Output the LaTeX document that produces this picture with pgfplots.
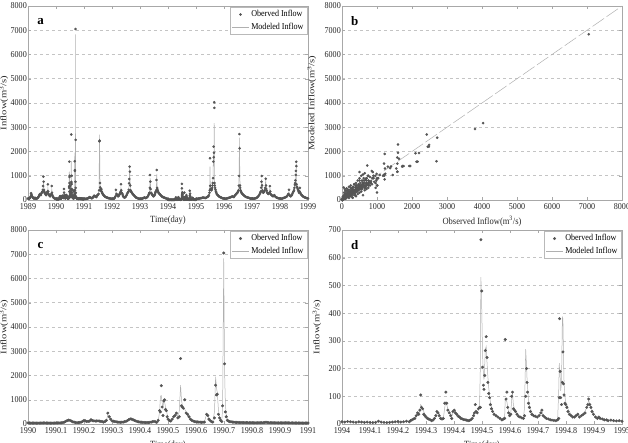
\documentclass[border=0pt]{standalone}
\usepackage{pgfplots}
\pgfplotsset{compat=1.18}
\usepackage{pgfplotstable}
\usepackage{fontspec}
\setmainfont{Liberation Serif}
\newfontfamily\hfont[FakeStretch=0.9]{Liberation Serif}
\newfontfamily\vfont[FakeStretch=1.25]{Liberation Serif}
\definecolor{obsc}{HTML}{555555}
\definecolor{modc}{HTML}{B0B0B0}
\definecolor{gridc}{HTML}{C4C4C4}
\definecolor{framec}{HTML}{A8A8A8}

\pgfplotstableread[row sep=\\]{t obs mod\\
1989.00 60 70\\ 1989.015 55 65\\ 1989.03 50 60\\ 1989.045 60 62\\ 1989.06 70 70\\ 1989.075 100 90\\ 1989.09 150 130\\ 1989.11 280 250\\ 1989.12 240 230\\ 1989.13 200 210\\ 1989.145 150 170\\ 1989.16 120 140\\ 1989.175 100 110\\ 1989.19 80 90\\ 1989.205 70 80\\ 1989.22 60 70\\ 1989.235 80 75\\ 1989.25 90 90\\ 1989.265 70 80\\ 1989.28 60 70\\ 1989.30 55 65\\ 1989.32 60 65\\ 1989.34 80 80\\ 1989.355 100 95\\ 1989.37 120 110\\ 1989.385 150 150\\ 1989.40 180 200\\ 1989.415 220 210\\ 1989.43 250 240\\ 1989.445 230 230\\ 1989.46 200 220\\ 1989.475 260 250\\ 1989.49 300 280\\ 1989.505 330 340\\ 1989.52 350 400\\ 1989.53 420 420\\ 1989.54 577 500\\ 1989.55 960 700\\ 1989.56 755 650\\ 1989.57 412 500\\ 1989.58 350 400\\ 1989.59 300 350\\ 1989.605 280 300\\ 1989.62 250 280\\ 1989.635 220 250\\ 1989.65 200 220\\ 1989.665 250 250\\ 1989.68 300 280\\ 1989.695 350 330\\ 1989.71 646 500\\ 1989.72 350 400\\ 1989.73 250 300\\ 1989.745 220 260\\ 1989.76 200 230\\ 1989.775 170 200\\ 1989.79 150 180\\ 1989.81 200 200\\ 1989.83 250 240\\ 1989.85 577 450\\ 1989.86 300 350\\ 1989.87 200 250\\ 1989.885 150 190\\ 1989.90 120 150\\ 1989.915 100 120\\ 1989.93 80 100\\ 1989.945 70 90\\ 1989.96 60 80\\ 1989.98 55 60\\
}\tabA
\pgfplotstableread[row sep=\\]{t obs mod\\
1990.00 45 50\\ 1990.005 44 48\\ 1990.01 40 45\\ 1990.015 41 44\\ 1990.02 40 42\\ 1990.025 39 41\\ 1990.03 38 40\\ 1990.035 39 41\\ 1990.04 40 42\\ 1990.045 41 43\\ 1990.05 42 44\\ 1990.055 44 45\\ 1990.06 45 46\\ 1990.065 42 45\\ 1990.07 40 44\\ 1990.075 39 42\\ 1990.08 38 40\\ 1990.085 39 40\\ 1990.09 40 40\\ 1990.095 41 42\\ 1990.10 42 44\\ 1990.105 44 45\\ 1990.11 45 46\\ 1990.115 48 49\\ 1990.12 50 52\\ 1990.125 60 60\\ 1990.13 80 70\\ 1990.135 110 100\\ 1990.14 140 130\\ 1990.145 160 150\\ 1990.15 150 145\\ 1990.155 120 125\\ 1990.16 90 100\\ 1990.165 75 85\\ 1990.17 60 70\\ 1990.175 58 65\\ 1990.18 55 60\\ 1990.185 65 68\\ 1990.19 80 75\\ 1990.195 110 105\\ 1990.20 150 140\\ 1990.205 130 135\\ 1990.21 100 110\\ 1990.215 110 112\\ 1990.22 120 115\\ 1990.225 180 160\\ 1990.23 140 145\\ 1990.235 130 135\\ 1990.24 120 125\\ 1990.245 125 128\\ 1990.25 130 130\\ 1990.255 120 122\\ 1990.26 110 115\\ 1990.265 95 100\\ 1990.27 80 90\\ 1990.275 100 100\\ 1990.28 150 140\\ 1990.285 450 380\\ 1990.29 300 310\\ 1990.295 200 220\\ 1990.30 130 150\\ 1990.305 115 130\\ 1990.31 100 110\\ 1990.315 90 95\\ 1990.32 80 85\\ 1990.325 75 80\\ 1990.33 70 75\\ 1990.335 75 78\\ 1990.34 80 80\\ 1990.345 95 90\\ 1990.35 110 100\\ 1990.355 140 135\\ 1990.36 180 170\\ 1990.365 210 200\\ 1990.37 200 195\\ 1990.375 175 180\\ 1990.38 150 160\\ 1990.385 125 135\\ 1990.39 100 110\\ 1990.395 90 95\\ 1990.40 80 85\\ 1990.405 75 80\\ 1990.41 70 75\\ 1990.415 65 70\\ 1990.42 60 65\\ 1990.425 60 63\\ 1990.43 60 62\\ 1990.435 70 68\\ 1990.44 80 75\\ 1990.445 95 90\\ 1990.45 110 100\\ 1990.455 90 90\\ 1990.46 70 80\\ 1990.465 150 130\\ 1990.47 550 500\\ 1990.473 500 1150\\ 1990.476 1580 1170\\ 1990.479 700 900\\ 1990.482 350 650\\ 1990.485 950 1000\\ 1990.488 1000 900\\ 1990.491 600 700\\ 1990.494 550 600\\ 1990.497 300 400\\ 1990.50 200 250\\ 1990.505 150 180\\ 1990.51 120 150\\ 1990.515 200 180\\ 1990.52 300 260\\ 1990.525 350 380\\ 1990.53 450 420\\ 1990.535 250 350\\ 1990.54 300 500\\ 1990.545 2700 1600\\ 1990.548 750 1000\\ 1990.551 700 800\\ 1990.555 650 700\\ 1990.56 1000 600\\ 1990.565 450 500\\ 1990.57 400 420\\ 1990.575 300 320\\ 1990.58 200 220\\ 1990.585 150 170\\ 1990.59 120 140\\ 1990.595 100 115\\ 1990.60 90 100\\ 1990.605 85 92\\ 1990.61 80 85\\ 1990.615 75 80\\ 1990.62 70 75\\ 1990.625 75 78\\ 1990.63 80 80\\ 1990.638 400 420\\ 1990.642 350 380\\ 1990.646 200 250\\ 1990.65 150 170\\ 1990.655 100 120\\ 1990.66 80 90\\ 1990.666 250 500\\ 1990.67 1600 1950\\ 1990.673 1200 1500\\ 1990.676 1230 1300\\ 1990.68 400 600\\ 1990.684 250 300\\ 1990.688 150 200\\ 1990.692 100 130\\ 1990.695 750 600\\ 1990.699 7050 6830\\ 1990.702 2480 2200\\ 1990.705 500 800\\ 1990.708 300 400\\ 1990.712 150 200\\ 1990.716 120 150\\ 1990.72 100 120\\ 1990.725 90 100\\ 1990.73 80 90\\ 1990.735 75 85\\ 1990.74 70 80\\ 1990.745 68 75\\ 1990.75 65 70\\ 1990.755 62 68\\ 1990.76 60 65\\ 1990.765 59 64\\ 1990.77 58 62\\ 1990.775 56 61\\ 1990.78 55 60\\ 1990.785 54 59\\ 1990.79 52 58\\ 1990.795 51 56\\ 1990.80 50 55\\ 1990.805 50 54\\ 1990.81 50 53\\ 1990.815 50 52\\ 1990.82 50 52\\ 1990.825 51 52\\ 1990.83 52 53\\ 1990.835 54 54\\ 1990.84 55 55\\ 1990.845 62 60\\ 1990.85 70 65\\ 1990.855 62 62\\ 1990.86 55 58\\ 1990.865 53 56\\ 1990.87 52 55\\ 1990.875 51 53\\ 1990.88 50 52\\ 1990.885 49 51\\ 1990.89 48 50\\ 1990.895 46 49\\ 1990.90 45 48\\ 1990.905 46 48\\ 1990.91 48 49\\ 1990.915 49 50\\ 1990.92 50 50\\ 1990.925 49 49\\ 1990.93 48 48\\ 1990.935 46 48\\ 1990.94 45 47\\ 1990.945 45 46\\ 1990.95 44 46\\ 1990.955 43 45\\ 1990.96 42 45\\ 1990.965 42 44\\ 1990.97 41 43\\ 1990.975 41 43\\ 1990.98 40 42\\ 1990.985 40 42\\ 1990.99 40 42\\ 1990.995 40 42\\ 1991.00 40 42\\
}\tabB
\pgfplotstableread[row sep=\\]{t obs mod\\
1991.00 50 60\\ 1991.02 48 56\\ 1991.04 45 55\\ 1991.06 48 55\\ 1991.08 50 55\\ 1991.10 55 60\\ 1991.12 60 65\\ 1991.14 70 72\\ 1991.16 80 80\\ 1991.18 100 95\\ 1991.20 120 110\\ 1991.22 100 105\\ 1991.24 90 100\\ 1991.26 80 90\\ 1991.28 70 80\\ 1991.30 85 90\\ 1991.32 100 100\\ 1991.34 140 130\\ 1991.36 180 160\\ 1991.38 160 165\\ 1991.40 150 160\\ 1991.42 130 140\\ 1991.44 120 130\\ 1991.46 160 150\\ 1991.48 200 180\\ 1991.50 220 230\\ 1991.52 250 260\\ 1991.54 400 500\\ 1991.55 2420 2700\\ 1991.56 2450 2200\\ 1991.57 700 900\\ 1991.58 520 600\\ 1991.59 450 500\\ 1991.60 380 420\\ 1991.61 420 410\\ 1991.62 450 400\\ 1991.63 350 360\\ 1991.64 300 320\\ 1991.655 280 290\\ 1991.67 250 260\\ 1991.685 220 230\\ 1991.70 200 210\\ 1991.72 170 190\\ 1991.74 150 170\\ 1991.76 130 150\\ 1991.78 120 130\\ 1991.80 110 120\\ 1991.82 100 110\\ 1991.84 90 100\\ 1991.86 80 90\\ 1991.88 75 85\\ 1991.90 70 80\\ 1991.925 65 75\\ 1991.95 60 70\\ 1991.975 55 65\\
1992.00 50 60\\ 1992.02 50 58\\ 1992.04 50 55\\ 1992.06 55 58\\ 1992.08 60 60\\ 1992.10 100 90\\ 1992.12 150 130\\ 1992.14 420 350\\ 1992.16 250 280\\ 1992.175 220 250\\ 1992.19 200 220\\ 1992.205 170 190\\ 1992.22 150 170\\ 1992.235 170 180\\ 1992.25 200 200\\ 1992.265 230 220\\ 1992.28 250 240\\ 1992.29 280 260\\ 1992.30 300 280\\ 1992.31 350 340\\ 1992.32 650 500\\ 1992.33 400 420\\ 1992.34 300 350\\ 1992.355 280 300\\ 1992.37 250 260\\ 1992.385 200 220\\ 1992.40 150 180\\ 1992.42 120 140\\ 1992.44 100 120\\ 1992.46 110 120\\ 1992.48 120 120\\ 1992.50 160 150\\ 1992.52 200 190\\ 1992.54 250 240\\ 1992.56 300 280\\ 1992.575 320 310\\ 1992.59 350 330\\ 1992.60 420 450\\ 1992.61 687 600\\ 1992.62 866 900\\ 1992.63 1375 1310\\ 1992.64 1168 1000\\ 1992.65 600 700\\ 1992.66 400 500\\ 1992.67 380 420\\ 1992.68 350 380\\ 1992.695 320 340\\ 1992.71 300 320\\ 1992.725 270 290\\ 1992.74 250 260\\ 1992.76 220 230\\ 1992.78 200 210\\ 1992.80 170 180\\ 1992.82 150 160\\ 1992.84 120 140\\ 1992.86 100 120\\ 1992.88 90 100\\ 1992.90 80 90\\ 1992.925 70 80\\ 1992.95 60 70\\ 1992.975 55 62\\
1993.00 50 60\\ 1993.02 50 58\\ 1993.04 50 55\\ 1993.06 55 58\\ 1993.08 60 60\\ 1993.10 70 70\\ 1993.12 80 80\\ 1993.14 90 90\\ 1993.16 100 100\\ 1993.18 90 95\\ 1993.20 80 90\\ 1993.22 90 95\\ 1993.24 100 100\\ 1993.26 120 120\\ 1993.28 150 140\\ 1993.30 200 190\\ 1993.32 250 230\\ 1993.33 280 280\\ 1993.34 300 320\\ 1993.35 500 600\\ 1993.36 1030 900\\ 1993.37 756 800\\ 1993.38 450 500\\ 1993.39 300 350\\ 1993.405 280 300\\ 1993.42 250 260\\ 1993.435 220 240\\ 1993.45 200 220\\ 1993.465 170 190\\ 1993.48 150 170\\ 1993.50 170 180\\ 1993.52 200 190\\ 1993.535 250 240\\ 1993.55 300 280\\ 1993.565 350 330\\ 1993.58 400 380\\ 1993.59 825 700\\ 1993.60 1237 1080\\ 1993.61 500 600\\ 1993.62 450 480\\ 1993.63 400 420\\ 1993.645 350 370\\ 1993.66 300 320\\ 1993.68 270 290\\ 1993.70 250 260\\ 1993.72 220 230\\ 1993.74 200 210\\ 1993.76 170 180\\ 1993.78 150 160\\ 1993.80 130 140\\ 1993.82 120 130\\ 1993.84 110 120\\ 1993.86 100 110\\ 1993.88 90 100\\ 1993.90 80 90\\ 1993.925 70 80\\ 1993.95 60 70\\ 1993.975 55 62\\
}\tabC
\pgfplotstableread[row sep=\\]{t obs mod\\
1994.00 8 9\\ 1994.01 7 8\\ 1994.02 9 9\\ 1994.03 8 8\\ 1994.04 7 7\\ 1994.05 6 7\\ 1994.06 8 7\\ 1994.07 7 7\\ 1994.08 6 6\\ 1994.09 7 6\\ 1994.10 6 6\\ 1994.11 5 6\\ 1994.12 6 6\\ 1994.13 10 8\\ 1994.14 7 7\\ 1994.15 6 6\\ 1994.16 5 6\\ 1994.17 6 6\\ 1994.18 7 6\\ 1994.19 8 7\\ 1994.20 9 8\\ 1994.21 7 8\\ 1994.22 8 8\\ 1994.23 10 9\\ 1994.24 8 9\\ 1994.245 12 11\\ 1994.25 15 14\\ 1994.255 18 16\\ 1994.26 20 18\\ 1994.265 30 25\\ 1994.27 40 35\\ 1994.274 35 38\\ 1994.278 50 45\\ 1994.281 105 70\\ 1994.284 60 65\\ 1994.288 55 58\\ 1994.292 35 45\\ 1994.296 30 35\\ 1994.30 25 30\\ 1994.305 20 25\\ 1994.31 18 20\\ 1994.315 15 18\\ 1994.32 12 15\\ 1994.325 14 15\\ 1994.33 20 18\\ 1994.335 30 28\\ 1994.339 45 40\\ 1994.343 40 40\\ 1994.347 30 33\\ 1994.352 20 25\\ 1994.357 18 20\\ 1994.362 20 20\\ 1994.367 75 60\\ 1994.371 115 80\\ 1994.374 75 70\\ 1994.378 50 55\\ 1994.383 40 45\\ 1994.388 30 35\\ 1994.392 20 28\\ 1994.396 45 40\\ 1994.401 50 50\\ 1994.405 40 45\\ 1994.41 35 38\\ 1994.415 28 32\\ 1994.42 25 28\\ 1994.425 20 24\\ 1994.43 18 20\\ 1994.435 16 18\\ 1994.44 15 16\\ 1994.445 14 15\\ 1994.45 12 14\\ 1994.455 13 13\\ 1994.46 15 14\\ 1994.465 20 18\\ 1994.47 30 28\\ 1994.473 40 38\\ 1994.476 70 50\\ 1994.479 45 45\\ 1994.483 40 42\\ 1994.487 55 50\\ 1994.491 60 58\\ 1994.494 60 200\\ 1994.496 665 530\\ 1994.499 480 420\\ 1994.502 205 250\\ 1994.505 140 180\\ 1994.507 125 160\\ 1994.51 175 220\\ 1994.512 265 270\\ 1994.515 315 280\\ 1994.518 240 220\\ 1994.521 150 170\\ 1994.524 110 130\\ 1994.527 95 105\\ 1994.53 70 80\\ 1994.534 55 62\\ 1994.538 45 50\\ 1994.543 35 40\\ 1994.55 30 33\\ 1994.557 25 27\\ 1994.564 20 22\\ 1994.571 15 18\\ 1994.577 18 17\\ 1994.581 20 30\\ 1994.583 305 90\\ 1994.586 90 85\\ 1994.589 115 80\\ 1994.592 60 60\\ 1994.595 40 45\\ 1994.599 30 35\\ 1994.603 35 40\\ 1994.606 100 90\\ 1994.609 115 110\\ 1994.612 55 70\\ 1994.616 50 55\\ 1994.62 45 48\\ 1994.625 35 40\\ 1994.63 28 32\\ 1994.636 25 28\\ 1994.642 22 24\\ 1994.648 20 22\\ 1994.652 30 60\\ 1994.656 100 270\\ 1994.659 200 210\\ 1994.661 150 160\\ 1994.663 115 130\\ 1994.666 75 90\\ 1994.669 60 70\\ 1994.673 45 55\\ 1994.678 35 42\\ 1994.684 30 33\\ 1994.69 28 30\\ 1994.697 25 28\\ 1994.704 30 30\\ 1994.71 40 38\\ 1994.714 50 45\\ 1994.718 30 35\\ 1994.724 25 28\\ 1994.73 20 22\\ 1994.737 18 20\\ 1994.744 15 17\\ 1994.75 14 15\\ 1994.757 13 14\\ 1994.764 12 13\\ 1994.77 15 14\\ 1994.774 20 120\\ 1994.776 95 220\\ 1994.777 380 200\\ 1994.779 190 180\\ 1994.781 95 120\\ 1994.784 70 150\\ 1994.787 150 385\\ 1994.789 260 380\\ 1994.791 145 250\\ 1994.793 105 150\\ 1994.796 75 100\\ 1994.799 70 80\\ 1994.803 60 70\\ 1994.807 45 55\\ 1994.812 35 45\\ 1994.818 30 35\\ 1994.824 25 30\\ 1994.83 25 27\\ 1994.836 30 28\\ 1994.842 35 33\\ 1994.848 25 28\\ 1994.855 30 30\\ 1994.862 35 35\\ 1994.868 40 45\\ 1994.874 60 60\\ 1994.878 70 75\\ 1994.881 90 85\\ 1994.885 70 72\\ 1994.889 60 60\\ 1994.893 45 50\\ 1994.898 35 40\\ 1994.905 25 30\\ 1994.912 20 25\\ 1994.917 25 24\\ 1994.922 20 22\\ 1994.93 18 20\\ 1994.937 15 17\\ 1994.945 15 16\\ 1994.95 12 14\\ 1994.96 14 14\\ 1994.97 12 13\\ 1994.98 11 12\\ 1994.99 12 12\\ 1995.00 10 11\\
}\tabD
\pgfplotstableread[row sep=\\]{t obs mod\\
1995.00 50 60\\ 1995.025 50 58\\ 1995.05 50 55\\ 1995.075 55 58\\ 1995.10 60 60\\ 1995.125 65 65\\ 1995.15 70 70\\ 1995.175 75 75\\ 1995.20 80 80\\ 1995.225 90 90\\ 1995.25 100 100\\ 1995.275 95 98\\ 1995.30 90 95\\ 1995.325 85 90\\ 1995.35 80 85\\ 1995.375 100 95\\ 1995.40 120 110\\ 1995.42 140 130\\ 1995.44 150 150\\ 1995.46 200 200\\ 1995.48 300 280\\ 1995.49 400 500\\ 1995.50 1718 1380\\ 1995.51 590 700\\ 1995.52 460 500\\ 1995.535 420 450\\ 1995.55 400 420\\ 1995.565 450 450\\ 1995.58 500 480\\ 1995.59 600 580\\ 1995.60 700 650\\ 1995.61 900 1000\\ 1995.62 1580 1750\\ 1995.63 2200 1940\\ 1995.635 1760 1400\\ 1995.64 1950 1400\\ 1995.65 4030 3170\\ 1995.655 3800 2930\\ 1995.66 700 900\\ 1995.67 600 650\\ 1995.68 500 550\\ 1995.695 420 450\\ 1995.71 350 380\\ 1995.725 300 320\\ 1995.74 250 260\\ 1995.76 220 230\\ 1995.78 200 210\\ 1995.80 170 180\\ 1995.82 150 160\\ 1995.84 130 140\\ 1995.86 120 130\\ 1995.88 110 120\\ 1995.90 100 110\\ 1995.925 85 95\\ 1995.95 70 80\\ 1995.975 65 75\\
1996.00 60 70\\ 1996.025 58 65\\ 1996.05 55 60\\ 1996.075 58 60\\ 1996.10 60 60\\ 1996.125 70 70\\ 1996.15 80 80\\ 1996.175 90 90\\ 1996.20 100 100\\ 1996.225 110 110\\ 1996.25 120 120\\ 1996.275 135 130\\ 1996.30 150 140\\ 1996.325 135 135\\ 1996.35 120 130\\ 1996.375 160 160\\ 1996.40 200 190\\ 1996.42 230 220\\ 1996.44 250 240\\ 1996.46 280 270\\ 1996.48 300 300\\ 1996.50 350 380\\ 1996.52 400 450\\ 1996.53 590 700\\ 1996.54 990 1080\\ 1996.55 2720 2570\\ 1996.56 2130 1580\\ 1996.57 600 800\\ 1996.58 500 550\\ 1996.59 400 450\\ 1996.605 350 380\\ 1996.62 300 320\\ 1996.64 270 290\\ 1996.66 250 260\\ 1996.68 220 230\\ 1996.70 200 210\\ 1996.725 170 180\\ 1996.75 150 160\\ 1996.775 130 140\\ 1996.80 120 130\\ 1996.825 110 120\\ 1996.85 100 110\\ 1996.875 90 100\\ 1996.90 80 90\\ 1996.925 70 80\\ 1996.95 60 70\\ 1996.975 60 68\\
1997.00 60 70\\ 1997.025 58 65\\ 1997.05 55 60\\ 1997.075 58 62\\ 1997.10 60 65\\ 1997.125 70 72\\ 1997.15 80 80\\ 1997.175 100 95\\ 1997.20 120 110\\ 1997.225 160 150\\ 1997.25 200 180\\ 1997.275 250 230\\ 1997.30 300 280\\ 1997.315 350 330\\ 1997.33 510 450\\ 1997.34 750 700\\ 1997.35 990 860\\ 1997.36 600 650\\ 1997.37 400 500\\ 1997.385 350 380\\ 1997.40 300 320\\ 1997.42 320 330\\ 1997.44 350 340\\ 1997.455 400 380\\ 1997.47 500 480\\ 1997.49 880 910\\ 1997.50 600 650\\ 1997.51 450 500\\ 1997.525 380 400\\ 1997.54 300 320\\ 1997.56 280 290\\ 1997.58 250 260\\ 1997.60 270 270\\ 1997.62 300 290\\ 1997.64 570 520\\ 1997.65 350 400\\ 1997.66 250 300\\ 1997.68 220 250\\ 1997.70 200 210\\ 1997.725 170 180\\ 1997.75 150 160\\ 1997.775 170 170\\ 1997.80 200 180\\ 1997.825 150 150\\ 1997.85 120 130\\ 1997.875 100 115\\ 1997.90 90 100\\ 1997.925 80 90\\ 1997.95 70 80\\ 1997.975 65 75\\
1998.00 60 70\\ 1998.025 58 65\\ 1998.05 55 60\\ 1998.075 60 65\\ 1998.10 70 70\\ 1998.125 80 80\\ 1998.15 90 90\\ 1998.175 100 100\\ 1998.20 120 110\\ 1998.225 130 125\\ 1998.25 150 140\\ 1998.275 200 190\\ 1998.30 250 230\\ 1998.32 420 350\\ 1998.34 200 230\\ 1998.36 170 190\\ 1998.38 150 170\\ 1998.40 170 180\\ 1998.42 200 190\\ 1998.44 250 240\\ 1998.46 300 280\\ 1998.48 350 330\\ 1998.50 400 380\\ 1998.515 500 480\\ 1998.53 620 600\\ 1998.54 700 680\\ 1998.55 810 740\\ 1998.56 1030 900\\ 1998.57 1200 1040\\ 1998.58 1580 1500\\ 1998.585 1400 1380\\ 1998.59 650 800\\ 1998.605 550 600\\ 1998.62 500 550\\ 1998.635 450 480\\ 1998.65 400 420\\ 1998.665 350 370\\ 1998.68 300 320\\ 1998.695 350 340\\ 1998.71 500 450\\ 1998.725 300 330\\ 1998.74 250 270\\ 1998.76 220 230\\ 1998.78 200 210\\ 1998.80 170 180\\ 1998.82 150 160\\ 1998.84 130 140\\ 1998.86 120 130\\ 1998.88 110 120\\ 1998.90 100 110\\ 1998.925 90 100\\ 1998.95 80 90\\ 1998.975 70 80\\ 1998.999 60 70\\
}\tabE
\pgfplotstableread[row sep=\\]{obs mod\\
50 520\\ 80 450\\ 120 380\\ 150 300\\ 200 550\\ 250 600\\ 300 480\\ 350 650\\ 400 700\\ 450 800\\ 500 900\\ 550 1000\\ 600 1050\\ 650 1100\\ 720 1420\\ 740 1000\\ 800 950\\ 850 1200\\ 880 1150\\ 900 900\\ 980 800\\ 1000 310\\ 1010 600\\ 1080 1030\\ 1210 1000\\ 1220 850\\ 1220 1900\\ 1310 1375\\ 1450 1030\\ 1550 1300\\ 1580 1160\\ 1600 2290\\ 1630 1700\\ 1730 1400\\ 1920 1400\\ 2100 1930\\ 2160 1580\\ 2490 2270\\ 100 50\\ 200 80\\ 300 100\\ 400 150\\ 450 250\\ 500 300\\ 550 350\\ 600 200\\ 650 400\\ 700 450\\ 750 500\\ 800 600\\ 350 200\\ 250 150\\ 150 120\\ 300 250\\ 400 400\\ 500 550\\ 600 700\\ 200 300\\ 100 250\\ 250 350\\ 30 150\\ 60 300\\ 90 200\\ 130 480\\ 170 420\\ 210 350\\ 260 450\\ 320 550\\ 380 520\\ 420 600\\ 470 650\\ 520 700\\ 570 800\\ 620 900\\ 680 850\\ 700 700\\ 760 800\\ 820 700\\ 860 650\\ 920 750\\ 960 500\\ 30 30\\ 70 110\\ 110 80\\ 160 200\\ 190 140\\ 230 260\\ 280 200\\ 330 330\\ 370 280\\ 430 350\\ 480 420\\ 530 450\\ 580 500\\ 630 600\\ 680 550\\ 730 650\\ 780 720\\ 830 780\\ 200 420\\ 140 260\\ 90 380\\ 60 180\\ 40 90\\
}\tabX

\pgfplotsset{
  panel/.style={
    scale only axis, width=280bp, height=194bp,
    axis line style={framec, line width=0.5pt},
    tick style={framec, line width=0.4pt},
    major tick length=3bp,
    tick align=inside,
    xtick pos=both, ytick pos=both,
    ymajorgrids, grid style={gridc, dashed, line width=0.5pt},
    tick label style={font=\hfont\fontsize{9}{9}\selectfont, text=black!85},
    yticklabel style={inner xsep=1bp},
    xlabel style={font=\hfont\fontsize{9.5}{10}\selectfont, text=black!85},
    ylabel style={font=\vfont\fontsize{8.5}{9}\selectfont, text=black!85, at={(axis description cs:-0.058,0.5)}, anchor=south},
    /pgf/number format/assume math mode=true,
    /pgf/number format/1000 sep={},
    legend style={draw=framec!80, font=\hfont\fontsize{9}{10}\selectfont, at={(0.997,0.995)}, anchor=north east, inner sep=1.5pt, row sep=0.5pt},
    legend cell align=left,
  },
  obs/.style={only marks, mark=*, mark size=1.1pt, mark options={draw=obsc, fill=obsc}},
  mod/.style={modc, line width=0.5pt, no marks},
}

\begin{document}
\begin{tikzpicture}
\path[use as bounding box] (0,0) rectangle (628bp,443bp);
\begin{axis}[panel, at={(28bp,243bp)}, anchor=south west,
  xmin=1989, xmax=1999, ymin=0, ymax=8000,
  xtick={1989,1990,1991,1992,1993,1994,1995,1996,1997,1998,1999},
  ytick={0,1000,2000,3000,4000,5000,6000,7000,8000},
  xlabel={Time(day)}, ylabel={Inflow(m\textsuperscript{3}/s)}]
\addlegendimage{only marks, mark=*, mark size=1.1pt, mark options={draw=obsc, fill=obsc}}
\addlegendentry{Oberved Inflow}
\addlegendimage{modc, line width=0.5pt}
\addlegendentry{Modeled Inflow}
\addplot[mod, forget plot] table[x=t,y=mod]{\tabA};
\addplot[mod, forget plot] table[x=t,y=mod]{\tabB};
\addplot[mod, forget plot] table[x=t,y=mod]{\tabC};
\addplot[mod, forget plot] table[x=t,y=mod]{\tabD};
\addplot[mod, forget plot] table[x=t,y=mod]{\tabE};
\addplot[obs, forget plot] table[x=t,y=obs]{\tabA};
\addplot[obs, forget plot] table[x=t,y=obs]{\tabB};
\addplot[obs, forget plot] table[x=t,y=obs]{\tabC};
\addplot[obs, forget plot] table[x=t,y=obs]{\tabD};
\addplot[obs, forget plot] table[x=t,y=obs]{\tabE};
\node[font=\bfseries\fontsize{13}{13}\selectfont] at (rel axis cs:0.045,0.92) {a};
\end{axis}
\begin{axis}[panel, at={(342bp,243bp)}, anchor=south west,
  xmin=0, xmax=8000, ymin=0, ymax=8000,
  xtick={0,1000,2000,3000,4000,5000,6000,7000,8000},
  ytick={0,1000,2000,3000,4000,5000,6000,7000,8000},
  ylabel style={at={(axis description cs:-0.08,0.5)}, anchor=south},
  xlabel={Observed Inflow(m\textsuperscript{3}/s)}, ylabel={Modeled Inflow(m\textsuperscript{3}/s)}]
\addplot[modc, line width=0.5pt, dash pattern=on 14pt off 3pt] coordinates {(0,0) (8000,8000)};
\addplot[obs] table[x=obs,y=mod]{\tabA};
\addplot[obs] table[x=obs,y=mod]{\tabB};
\addplot[obs] table[x=obs,y=mod]{\tabC};
\addplot[obs] table[x=obs,y=mod]{\tabD};
\addplot[obs] table[x=obs,y=mod]{\tabE};
\addplot[obs] table[x=obs,y=mod]{\tabX};
\node[font=\bfseries\fontsize{13}{13}\selectfont] at (rel axis cs:0.045,0.92) {b};
\end{axis}
\begin{axis}[panel, at={(28bp,19bp)}, anchor=south west,
  xmin=1990, xmax=1991, ymin=0, ymax=8000,
  xtick={1990,1990.1,1990.2,1990.3,1990.4,1990.5,1990.6,1990.7,1990.8,1990.9,1991},
  ytick={0,1000,2000,3000,4000,5000,6000,7000,8000},
  xlabel={Time(day)}, ylabel={Inflow(m\textsuperscript{3}/s)}]
\addlegendimage{only marks, mark=*, mark size=1.3pt, mark options={draw=obsc, fill=obsc}}
\addlegendentry{Oberved Inflow}
\addlegendimage{modc, line width=0.5pt}
\addlegendentry{Modeled Inflow}
\addplot[mod, forget plot] table[x=t,y=mod]{\tabB};
\addplot[obs, mark size=1.3pt, forget plot] table[x=t,y=obs]{\tabB};
\node[font=\bfseries\fontsize{13}{13}\selectfont] at (rel axis cs:0.045,0.92) {c};
\end{axis}
\begin{axis}[panel, at={(342bp,19bp)}, anchor=south west,
  xmin=1994, xmax=1995, ymin=0, ymax=700,
  xtick={1994,1994.1,1994.2,1994.3,1994.4,1994.5,1994.6,1994.7,1994.8,1994.9,1995},
  ytick={0,100,200,300,400,500,600,700},
  ylabel style={at={(axis description cs:-0.062,0.5)}, anchor=south},
  xlabel={Time(day)}, ylabel={Inflow(m\textsuperscript{3}/s)}]
\addlegendimage{only marks, mark=*, mark size=1.3pt, mark options={draw=obsc, fill=obsc}}
\addlegendentry{Oberved Inflow}
\addlegendimage{modc, line width=0.5pt}
\addlegendentry{Modeled Inflow}
\addplot[mod, forget plot] table[x=t,y=mod]{\tabD};
\addplot[obs, mark size=1.3pt, forget plot] table[x=t,y=obs]{\tabD};
\node[font=\bfseries\fontsize{13}{13}\selectfont] at (rel axis cs:0.045,0.92) {d};
\end{axis}
\end{tikzpicture}
\end{document}
